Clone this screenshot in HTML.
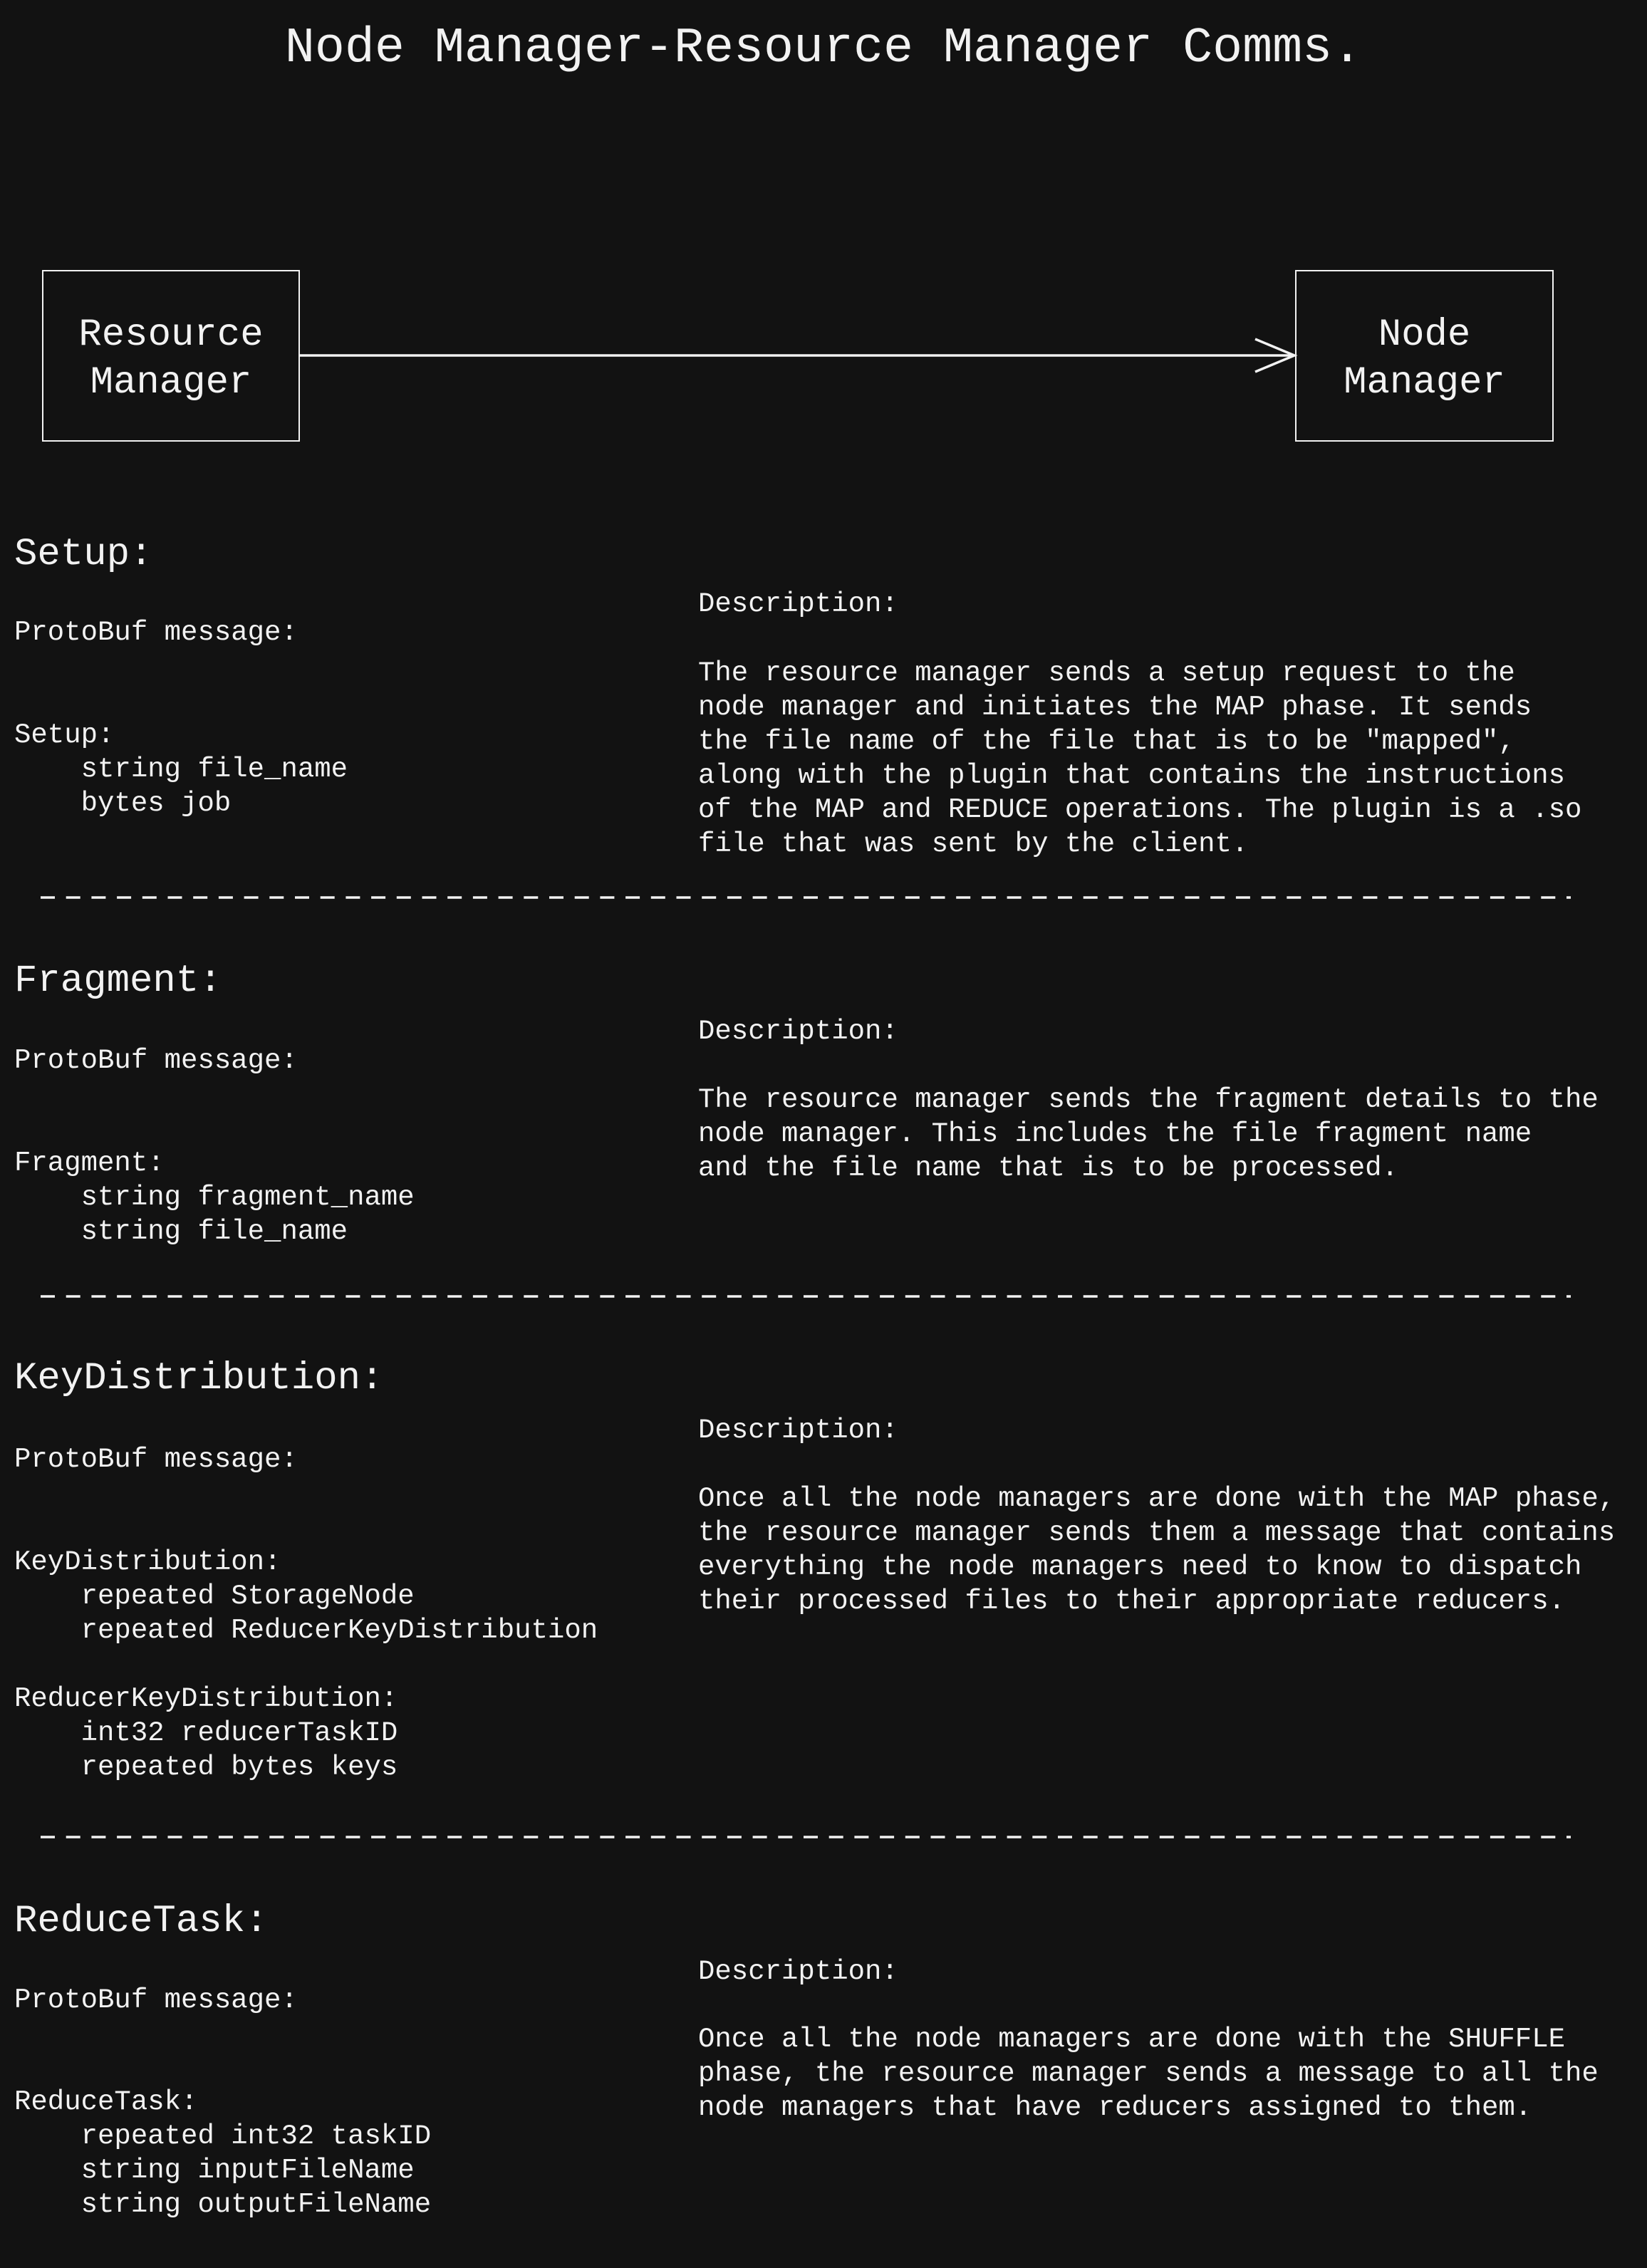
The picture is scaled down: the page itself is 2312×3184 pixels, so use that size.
<!DOCTYPE html>
<html><head><meta charset="utf-8"><style>
html,body{margin:0;padding:0;background:#121212;}
body{width:2312px;height:3184px;position:relative;overflow:hidden;color:#f2f2f2;font-family:"Liberation Mono","DejaVu Sans Mono",monospace;}
.t{position:absolute;white-space:pre;line-height:48px;font-size:39px;}
.h{position:absolute;white-space:pre;font-size:54px;line-height:64px;}
</style></head><body>
<div class="h" style="left:0;width:2312px;text-align:center;top:24px;font-size:70px;line-height:90px;">Node Manager-Resource Manager Comms.</div>
<svg width="2312" height="3184" style="position:absolute;left:0;top:0">
<rect x="60" y="380" width="360" height="239" fill="none" stroke="#f2f2f2" stroke-width="2"/>
<rect x="1819" y="380" width="361" height="239" fill="none" stroke="#f2f2f2" stroke-width="2"/>
<line x1="420" y1="499" x2="1817" y2="499" stroke="#f2f2f2" stroke-width="3.5"/>
<polyline points="1762,476 1817,499 1762,522" fill="none" stroke="#f2f2f2" stroke-width="3.5"/>
<g stroke="#f2f2f2" stroke-width="3.5" stroke-dasharray="20 15.7">
<line x1="57" y1="1260" x2="2205" y2="1260"/>
<line x1="57" y1="1820" x2="2205" y2="1820"/>
<line x1="57" y1="2579" x2="2205" y2="2579"/>
</g>
</svg>
<div class="h" style="left:60px;width:360px;text-align:center;top:437px;line-height:67px">Resource
Manager</div>
<div class="h" style="left:1819px;width:361px;text-align:center;top:437px;line-height:67px">Node
Manager</div>

<div class="h" style="left:20px;top:747px">Setup:</div>
<div class="t" style="left:980px;top:824px">Description:</div>
<div class="t" style="left:20px;top:864px">ProtoBuf message:</div>
<div class="t" style="left:980px;top:921px">The resource manager sends a setup request to the
node manager and initiates the MAP phase. It sends
the file name of the file that is to be "mapped",
along with the plugin that contains the instructions
of the MAP and REDUCE operations. The plugin is a .so
file that was sent by the client.</div>
<div class="t" style="left:20px;top:1008px">Setup:
    string file_name
    bytes job</div>

<div class="h" style="left:20px;top:1346px">Fragment:</div>
<div class="t" style="left:980px;top:1424px">Description:</div>
<div class="t" style="left:20px;top:1465px">ProtoBuf message:</div>
<div class="t" style="left:980px;top:1520px">The resource manager sends the fragment details to the
node manager. This includes the file fragment name
and the file name that is to be processed.</div>
<div class="t" style="left:20px;top:1609px">Fragment:
    string fragment_name
    string file_name</div>

<div class="h" style="left:20px;top:1904px">KeyDistribution:</div>
<div class="t" style="left:980px;top:1984px">Description:</div>
<div class="t" style="left:20px;top:2025px">ProtoBuf message:</div>
<div class="t" style="left:980px;top:2080px">Once all the node managers are done with the MAP phase,
the resource manager sends them a message that contains
everything the node managers need to know to dispatch
their processed files to their appropriate reducers.</div>
<div class="t" style="left:20px;top:2169px">KeyDistribution:
    repeated StorageNode
    repeated ReducerKeyDistribution

ReducerKeyDistribution:
    int32 reducerTaskID
    repeated bytes keys</div>

<div class="h" style="left:20px;top:2666px">ReduceTask:</div>
<div class="t" style="left:980px;top:2744px">Description:</div>
<div class="t" style="left:20px;top:2784px">ProtoBuf message:</div>
<div class="t" style="left:980px;top:2839px">Once all the node managers are done with the SHUFFLE
phase, the resource manager sends a message to all the
node managers that have reducers assigned to them.</div>
<div class="t" style="left:20px;top:2927px">ReduceTask:
    repeated int32 taskID
    string inputFileName
    string outputFileName</div>
</body></html>
